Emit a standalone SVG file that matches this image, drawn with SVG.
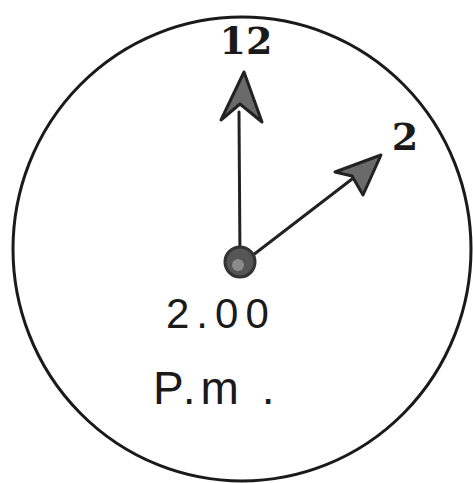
<svg xmlns="http://www.w3.org/2000/svg" width="473" height="483" viewBox="0 0 473 483">
<style>
.face{fill:none;stroke:#1a1a1a;stroke-width:3}
.hand{stroke:#222;stroke-width:3;fill:none;stroke-linecap:round}
.head{fill:#6a6a6a;stroke:#222;stroke-width:3;stroke-linejoin:round}
.num{font-family:"DejaVu Serif","Liberation Serif",serif;font-weight:bold;fill:#1a1a1a}
.hand-text{font-family:"Liberation Sans","DejaVu Sans",sans-serif;fill:#1a1a1a}
</style>
<rect width="473" height="483" fill="#ffffff"/>
<g id="clock-face">
<ellipse class="face" cx="242" cy="249" rx="229" ry="232"/>
</g>
<g id="connectors">
<line class="hand" x1="240" y1="262" x2="239" y2="112"/>
<polygon class="head" points="244,72 221,120 240,104 262,122"/>
<line class="hand" x1="244" y1="262" x2="356" y2="176"/>
<polygon class="head" points="381,155 335,172 352,176 363,195"/>
</g>
<g id="center">
<circle cx="240" cy="262" r="15" fill="#555" stroke="#333" stroke-width="3"/>
<circle cx="238" cy="265" r="6" fill="#8a8a8a"/>
</g>
<g id="label-12">
<text class="num" x="246" y="54" font-size="38" text-anchor="middle">12</text>
</g>
<g id="label-2">
<text class="num" x="405" y="150" font-size="38" text-anchor="middle">2</text>
</g>
<g id="time">
<text class="hand-text" x="166" y="328" font-size="42" letter-spacing="7">2.00</text>
<text class="hand-text" x="153" y="404" font-size="46" letter-spacing="5">P.m .</text>
</g>
</svg>
